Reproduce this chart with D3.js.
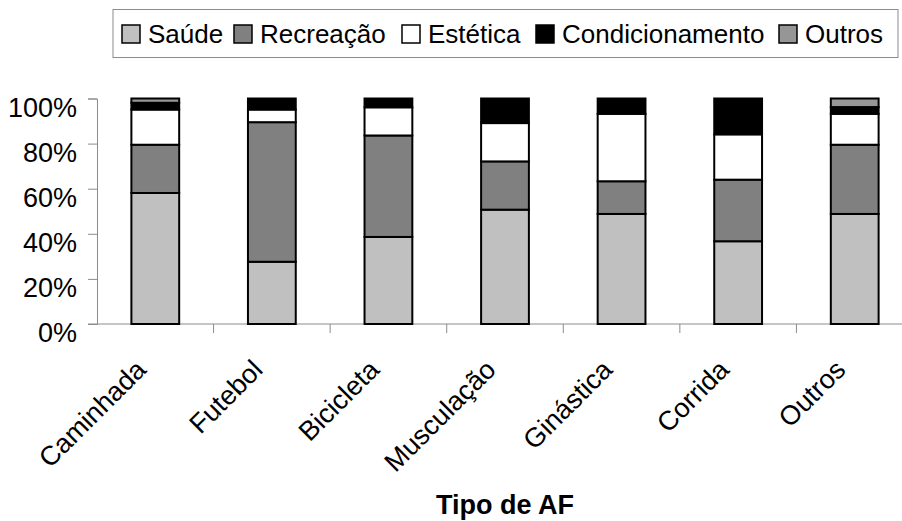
<!DOCTYPE html>
<html>
<head>
<meta charset="utf-8">
<script src="https://cdn.jsdelivr.net/npm/d3@7"></script>
<style>
  body { margin: 0; background: #fff; }
  svg { display: block; font-family: Arial, "Liberation Sans", sans-serif; }
</style>
</head>
<body>
<div class="chart"></div>
<script>
// values, in percent of each activity
const categories = ['Caminhada', 'Futebol', 'Bicicleta', 'Musculação', 'Ginástica', 'Corrida', 'Outros']
const seriesNames = ['Saúde', 'Recreação', 'Estética', 'Condicionamento', 'Outros']
const saude = [58.1, 27.6, 38.6, 50.7, 48.8, 36.7, 48.8]
const recreacao = [21.4, 61.9, 45.0, 21.4, 14.5, 27.3, 30.7]
const estetica = [15.6, 5.6, 12.5, 17.0, 29.9, 20.1, 13.7]
const condicionamento = [3.0, 4.9, 3.9, 10.9, 6.8, 15.9, 3.0]
const outros = [1.9, 0, 0, 0, 0, 0, 3.8]
const yTicks = [0, 20, 40, 60, 80, 100]
const xTitle = 'Tipo de AF'

const colors = ['#c0c0c0', '#808080', '#ffffff', '#000000', '#969696']
const seriesValues = [saude, recreacao, estetica, condicionamento, outros]

const width = 902
const height = 521

const rows = categories.map((c, i) => {
	let row = { cat: c }
	seriesNames.forEach((s, j) => row[s] = seriesValues[j][i])
	return row
})

const stacked = d3.stack().keys(seriesNames)(rows)

const svg = d3.select('.chart')
.append('svg')
.attr('width', width)
.attr('height', height)

const x = d3.scaleBand()
.domain(categories)
.range([97, 913])
.padding(0)

const y = d3.scaleLinear()
.domain([0, 100])
.range([324, 98.5])

const barW = x.bandwidth() * 0.41
const axisColor = '#8c8c8c'

// y axis
const yAxis = svg.append('g')
.attr('transform', 'translate(97,0)')
.call(d3.axisLeft(y).tickValues(yTicks).tickSize(9).tickFormat(d => d + '%'))

yAxis.select('.domain').attr('stroke', axisColor)
yAxis.selectAll('.tick line').attr('stroke', axisColor)
yAxis.selectAll('.tick text')
.attr('x', -20)
.attr('dy', '0.85em')
.attr('y', -5)
.attr('font-size', 27)
.attr('font-family', 'Arial, "Liberation Sans", sans-serif')
.attr('fill', '#000')

// x axis line + ticks on category boundaries
svg.append('line')
.attr('x1', 88).attr('x2', width)
.attr('y1', y(0)).attr('y2', y(0))
.attr('stroke', axisColor)

svg.append('g')
.selectAll('line')
.data(categories.slice(1))
.join('line')
.attr('x1', d => x(d)).attr('x2', d => x(d))
.attr('y1', y(0)).attr('y2', y(0) + 9)
.attr('stroke', axisColor)

// stacked bars
svg.append('g')
.selectAll('g')
.data(stacked)
.join('g')
.attr('fill', (d, i) => colors[i])
.selectAll('rect')
.data(d => d.filter(p => p[1] - p[0] > 0))
.join('rect')
.attr('x', d => x(d.data.cat) + x.bandwidth() / 2 - barW / 2)
.attr('y', d => y(d[1]))
.attr('width', barW)
.attr('height', d => y(d[0]) - y(d[1]))
.attr('stroke', '#000')
.attr('stroke-width', 2)

// category labels, turned 45 degrees
svg.append('g')
.selectAll('text')
.data(categories)
.join('text')
.attr('transform', d => `translate(${x(d) + x.bandwidth() / 2 - 21},${y(0) + 34}) rotate(-45)`)
.attr('text-anchor', 'end')
.attr('dy', '0.7em')
.attr('font-size', 27)
.text(d => d)

svg.append('text')
.attr('x', 505)
.attr('y', 514)
.attr('text-anchor', 'middle')
.attr('font-size', 27)
.attr('font-weight', 'bold')
.text(xTitle)

// legend
const legend = svg.append('g')

legend.append('rect')
.attr('x', 113).attr('y', 9.5)
.attr('width', 785).attr('height', 48)
.attr('fill', 'none')
.attr('stroke', '#8c8c8c')

const legendX = [122, 234, 402, 536, 779]

const item = legend.selectAll('g')
.data(seriesNames)
.join('g')
.attr('transform', (d, i) => `translate(${legendX[i]},25)`)

item.append('rect')
.attr('width', 18).attr('height', 18)
.attr('fill', (d, i) => colors[i])
.attr('stroke', '#000')
.attr('stroke-width', 1.5)

item.append('text')
.attr('x', 26)
.attr('y', 18)
.attr('font-size', 26)
.text(d => d)
</script>
</body>
</html>
